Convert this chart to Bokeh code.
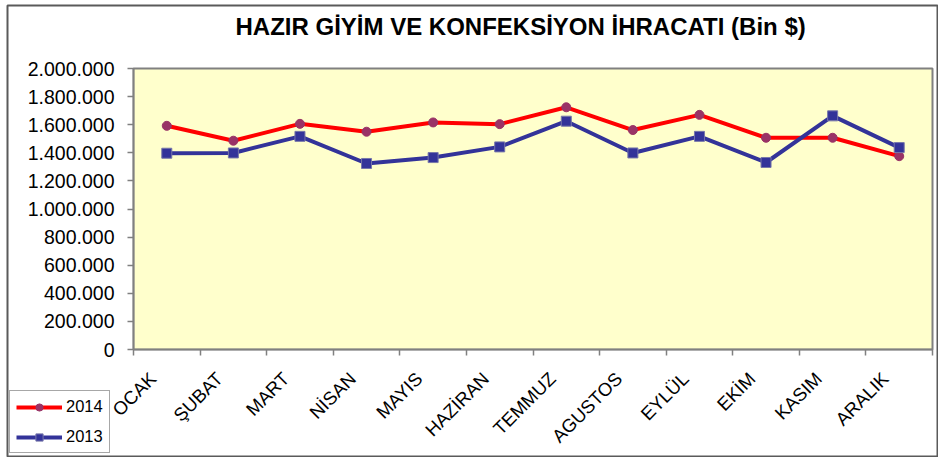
import math
from bokeh.plotting import figure
from bokeh.layouts import column
from bokeh.models import FixedTicker, Legend, LegendItem, Label
from bokeh.embed import file_html
from bokeh.resources import INLINE

months = ["OCAK", "ŞUBAT", "MART", "NİSAN", "MAYIS", "HAZİRAN",
          "TEMMUZ", "AGUSTOS", "EYLÜL", "EKİM", "KASIM", "ARALIK"]
y2014 = [1592000, 1486000, 1606000, 1550000, 1616000, 1604000,
         1724000, 1562000, 1670000, 1507000, 1507000, 1376000]
y2013 = [1397000, 1399000, 1517000, 1324000, 1366000, 1442000,
         1625000, 1399000, 1517000, 1331000, 1663000, 1437000]
y_ticks = [0, 200000, 400000, 600000, 800000, 1000000,
           1200000, 1400000, 1600000, 1800000, 2000000]
y_tick_labels = ["0", "200.000", "400.000", "600.000", "800.000", "1.000.000",
                 "1.200.000", "1.400.000", "1.600.000", "1.800.000", "2.000.000"]
series_names = ["2014", "2013"]
title_text = "HAZIR GİYİM VE KONFEKSİYON İHRACATI (Bin $)"

xs = [i + 0.5 for i in range(len(months))]
bounds = [i for i in range(len(months) + 1)]
LABEL_SHIFT = -0.21  # rotated labels end slightly left of the category centre
label_pos = [x + LABEL_SHIFT for x in xs]

FONT = "Liberation Sans"
RED = "#FF0000"
RED_MK = "#993366"
BLUE = "#333399"

# ---------------- main chart ----------------
W, H = 940, 457
p = figure(width=W, height=H, x_range=(0, 12), y_range=(0, 2000000),
           output_backend="svg", toolbar_location=None,
           min_border_left=133, min_border_right=W - 932,
           min_border_top=68, min_border_bottom=H - 351)
p.frame_align = False

p.background_fill_color = "#FFFFCC"
p.border_fill_color = "white"
p.outline_line_color = "#808080"
p.outline_line_width = 2
p.xgrid.visible = False
p.ygrid.visible = False

# y axis
p.yaxis.ticker = FixedTicker(ticks=y_ticks)
p.yaxis.major_label_overrides = {t: l for t, l in zip(y_ticks, y_tick_labels)}
p.yaxis.major_label_text_font = FONT
p.yaxis.major_label_text_font_size = "19.5px"
p.yaxis.major_label_text_color = "black"
p.yaxis.axis_line_color = "#808080"
p.yaxis.axis_line_width = 1.5
p.yaxis.major_tick_line_color = "#808080"
p.yaxis.major_tick_line_width = 1.5
p.yaxis.major_tick_out = 6
p.yaxis.major_tick_in = 0
p.yaxis.minor_tick_line_color = None
p.yaxis.major_label_standoff = 13

# x axis
p.xaxis.ticker = FixedTicker(ticks=label_pos, minor_ticks=bounds)
p.xaxis.major_label_overrides = {x: m for x, m in zip(label_pos, months)}
p.xaxis.major_label_orientation = math.pi / 4
p.xaxis.major_label_text_font = FONT
p.xaxis.major_label_text_font_size = "18.5px"
p.xaxis.major_label_text_color = "black"
p.xaxis.axis_line_color = "#808080"
p.xaxis.axis_line_width = 1.5
p.xaxis.major_tick_line_color = None
p.xaxis.minor_tick_line_color = "#808080"
p.xaxis.minor_tick_line_width = 1.5
p.xaxis.minor_tick_out = 6
p.xaxis.minor_tick_in = 0
p.xaxis.major_label_standoff = 20

p.line(xs, y2014, line_color=RED, line_width=4)
p.scatter(xs, y2014, marker="circle", size=9, fill_color=RED_MK, line_color=RED_MK)
p.line(xs, y2013, line_color=BLUE, line_width=4)
p.scatter(xs, y2013, marker="square", size=10, fill_color=BLUE,
          line_color="#7777AA", line_width=1)

# ------------- transparent overlay: chart border, title, legend -------------
BW, BH = 932, 453
ov = figure(width=BW, height=BH, x_range=(100, 101), y_range=(0, 1),
            output_backend="svg", toolbar_location=None,
            x_axis_location=None, y_axis_location=None,
            min_border=1, min_border_left=1, min_border_right=1,
            min_border_top=1, min_border_bottom=1)
ov.frame_align = False
ov.grid.visible = False
ov.outline_line_color = "#5a5a5a"
ov.outline_line_width = 2
ov.background_fill_alpha = 0
ov.border_fill_alpha = 0
ov.margin = (4 - H, 0, 0, 6)

title = Label(x=228, y=BH - 2 - 21, x_units="screen", y_units="screen",
              text=title_text, text_font=FONT, text_font_size="24px",
              text_font_style="bold", text_color="black",
              text_align="left", text_baseline="middle")
ov.add_layout(title)

# legend entries drawn from the same series (kept out of the overlay's view)
l14 = ov.line(xs, y2014, line_color=RED, line_width=4)
m14 = ov.scatter(xs, y2014, marker="circle", size=9, fill_color=RED_MK, line_color=RED_MK)
l13 = ov.line(xs, y2013, line_color=BLUE, line_width=4)
m13 = ov.scatter(xs, y2013, marker="square", size=10, fill_color=BLUE,
                 line_color="#7777AA", line_width=1)
legend = Legend(items=[LegendItem(label=series_names[0], renderers=[l14, m14]),
                       LegendItem(label=series_names[1], renderers=[l13, m13])],
                location=(2, 3))
legend.label_text_font = FONT
legend.label_text_font_size = "16.5px"
legend.label_text_color = "black"
legend.border_line_color = "#505050"
legend.border_line_width = 1.5
legend.background_fill_color = "white"
legend.background_fill_alpha = 1
legend.glyph_width = 46
legend.glyph_height = 18
legend.spacing = 11
legend.padding = 6
legend.margin = 0
legend.label_standoff = 4
ov.add_layout(legend, "center")

layout = column(p, ov, spacing=0)
open("out.html", "w").write(file_html(layout, INLINE))
